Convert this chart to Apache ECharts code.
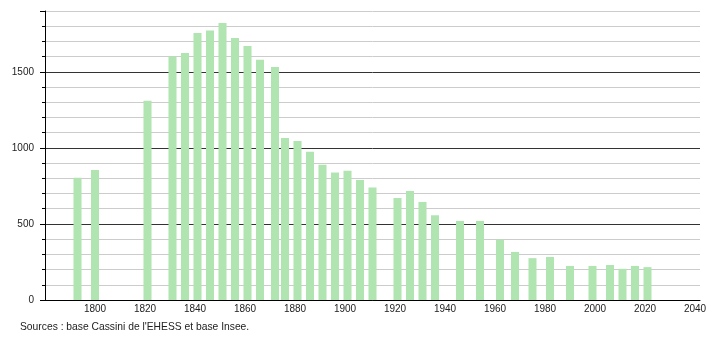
<!DOCTYPE html>
<html>
<head>
<meta charset="utf-8">
<script src="https://cdn.jsdelivr.net/npm/echarts@6/dist/echarts.min.js"></script>
<style>
html,body{margin:0;padding:0;background:#fff;}
#chart{width:710px;height:340px;}
</style>
</head>
<body>
<div id="chart"></div>
<script>
const years = [1793, 1800, 1821, 1831, 1836, 1841, 1846, 1851, 1856, 1861, 1866, 1872, 1876, 1881, 1886, 1891, 1896, 1901, 1906, 1911, 1921, 1926, 1931, 1936, 1946, 1954, 1962, 1968, 1975, 1982, 1990, 1999, 2006, 2011, 2016, 2021];
const population = [803, 855, 1310, 1601, 1624, 1755, 1771, 1821, 1723, 1670, 1579, 1532, 1065, 1045, 974, 890, 838, 849, 789, 739, 671, 717, 645, 557, 520, 520, 397, 316, 275, 283, 224, 224, 230, 205, 224, 216];
const sourceText = "Sources : base Cassini de l'EHESS et base Insee.";

const chart = echarts.init(document.getElementById('chart'), null, {renderer: 'canvas'});
const font = 'Liberation Sans, Arial, sans-serif';
chart.setOption({
  animation: false,
  backgroundColor: '#ffffff',
  grid: {left: 45, right: 10, top: 11, bottom: 40},
  xAxis: {
    type: 'value', min: 1780, max: 2042, interval: 20,
    axisLine: {show: true, lineStyle: {color: '#000', width: 1}},
    axisTick: {show: false},
    splitLine: {show: false},
    axisLabel: {
      color: '#222', fontFamily: font, fontSize: 10, margin: 4,
      formatter: v => (v % 20 === 0 && v >= 1800 && v <= 2040) ? String(v) : ''
    }
  },
  yAxis: [{
    type: 'value', min: 0, max: 1900, interval: 100,
    axisLine: {show: true, lineStyle: {color: '#000', width: 1}},
    axisTick: {show: true, length: 3, lineStyle: {color: '#000'}},
    splitLine: {show: true, lineStyle: {color: ['#333', '#cccccc', '#cccccc', '#cccccc', '#cccccc'], width: 1}},
    axisLabel: {
      color: '#222', fontFamily: font, fontSize: 10, margin: 11,
      formatter: v => (v % 500 === 0) ? String(v) : ''
    }
  }, {
    type: 'value', min: 0, max: 1900, interval: 500, position: 'left',
    axisLine: {show: false},
    axisTick: {show: true, length: 5, lineStyle: {color: '#000'}},
    splitLine: {show: false},
    axisLabel: {show: false}
  }],
  series: [{
    type: 'bar',
    yAxisIndex: 0,
    barWidth: 8,
    itemStyle: {color: '#b0e4b0'},
    data: years.map((y, i) => [y, population[i]])
  }],
  graphic: [{
    type: 'text', left: 20, top: 322,
    style: {text: sourceText, fill: '#222', font: '10.3px ' + font}
  }]
});
</script>
</body>
</html>
